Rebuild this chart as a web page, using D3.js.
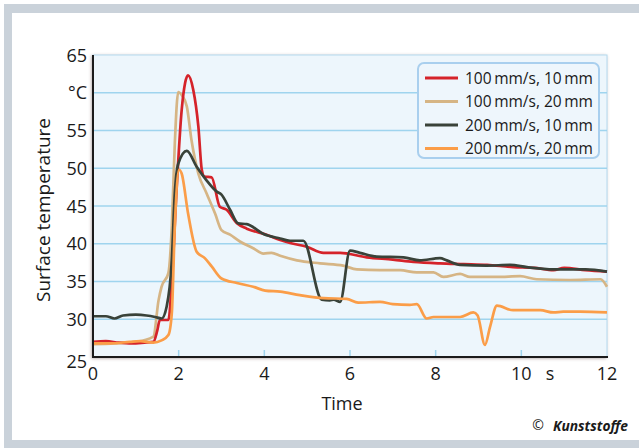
<!DOCTYPE html>
<html>
<head>
<meta charset="utf-8">
<script src="https://cdn.jsdelivr.net/npm/d3@7"></script>
<style>
  html, body { margin: 0; padding: 0; background: #fff; }
  svg { display: block; font-family: "Open Sans", "Noto Sans", sans-serif; }
</style>
</head>
<body>
<div id="chart"></div>
<script>
// Data: [time in s, surface temperature in °C]
const red100_10 = [[0,27.0],[0.3,27.1],[0.6,26.9],[0.9,26.8],[1.2,26.9],[1.41,27.0],[1.5,28.5],[1.56,29.9],[1.76,29.9],[1.84,35],[1.95,47],[2.07,57.7],[2.15,61.3],[2.22,62.3],[2.34,60.4],[2.46,55.5],[2.54,49.8],[2.6,48.9],[2.77,48.8],[2.96,44.9],[3.12,44.5],[3.36,42.7],[3.59,42.0],[4.05,41.2],[4.37,40.5],[4.6,40.1],[4.99,39.6],[5.38,38.8],[5.77,38.8],[6.39,38.2],[7.0,37.9],[7.48,37.6],[8.1,37.4],[8.65,37.3],[9.2,37.2],[9.81,36.9],[10.3,36.8],[10.75,36.5],[11.0,36.8],[11.5,36.5],[12,36.3]];
const tan100_20 = [[0,26.7],[0.5,26.8],[1.0,27.0],[1.41,27.7],[1.53,32.5],[1.6,34.3],[1.76,36.1],[1.84,42.3],[1.91,53.3],[1.99,60.1],[2.07,59.7],[2.19,58.2],[2.3,53.7],[2.46,49.3],[2.65,46.7],[2.85,44.0],[3.0,41.8],[3.2,41.2],[3.43,40.3],[3.74,39.4],[3.98,38.7],[4.17,38.8],[4.37,38.4],[4.76,37.8],[5.3,37.4],[5.84,37.1],[6.16,36.6],[6.7,36.5],[7.17,36.5],[7.56,36.2],[7.95,36.2],[8.18,35.6],[8.57,36.0],[8.8,35.6],[9.43,35.6],[9.97,35.7],[10.36,35.3],[11.14,35.2],[11.85,35.3],[12,34.3]];
const dark200_10 = [[0,30.4],[0.3,30.4],[0.5,30.1],[0.7,30.5],[1.0,30.6],[1.25,30.5],[1.45,30.3],[1.6,30.1],[1.72,31.7],[1.84,37.8],[1.91,46.7],[1.99,50.6],[2.19,52.3],[2.42,50.2],[2.65,48.4],[2.89,46.9],[3.0,46.5],[3.2,44.5],[3.39,42.7],[3.59,42.6],[3.98,41.3],[4.37,40.7],[4.6,40.4],[4.91,40.4],[5.34,32.6],[5.53,32.5],[5.62,32.6],[5.77,32.3],[6.0,39.1],[6.23,38.8],[6.62,38.3],[7.25,38.2],[7.63,37.8],[8.1,38.1],[8.26,37.8],[8.57,37.2],[9.19,37.1],[9.74,37.2],[10.13,36.9],[10.75,36.6],[11.5,36.6],[12,36.3]];
const orange200_20 = [[0,26.8],[0.4,26.8],[0.86,27.0],[1.1,27.1],[1.41,26.9],[1.6,27.2],[1.76,27.9],[1.84,30.8],[1.91,42.3],[2.01,49.8],[2.07,49.3],[2.22,44.0],[2.42,38.95],[2.61,38.1],[2.77,37.0],[3.0,35.4],[3.36,34.8],[3.74,34.3],[4.02,33.8],[4.37,33.65],[4.83,33.2],[5.38,32.8],[5.92,32.7],[6.19,32.2],[6.7,32.3],[7.0,32.0],[7.4,31.9],[7.56,32.0],[7.79,30.1],[7.95,30.3],[8.57,30.3],[8.88,30.9],[8.98,30.5],[9.15,26.6],[9.27,29.0],[9.43,31.8],[9.81,31.2],[10.44,31.2],[10.75,30.9],[10.98,31.0],[11.37,31.0],[12,30.9]];

const seriesNames = ["100\u2009mm/s, 10\u2009mm", "100\u2009mm/s, 20\u2009mm", "200\u2009mm/s, 10\u2009mm", "200\u2009mm/s, 20\u2009mm"];
const seriesColors = ["#d5232a", "#d6b585", "#394239", "#fb9d48"];
const xTicks = [0, 2, 4, 6, 8, 10, 12];
const yTicks = [25, 30, 35, 40, 45, 50, 55, 60, 65];
const unitX = "s", unitY = "°C";

const W = 639, H = 448;
const svg = d3.select("#chart").append("svg").attr("width", W).attr("height", H);

// grey frame round the white panel
svg.append("rect").attr("x", 4).attr("y", 4).attr("width", W - 4).attr("height", H - 4).attr("fill", "#cad2da");
svg.append("rect").attr("x", 12).attr("y", 13).attr("width", W - 12).attr("height", 427).attr("fill", "#fff");

const plot = { left: 93, right: 607, top: 55, bottom: 357 };
const x = d3.scaleLinear().domain([0, 12]).range([plot.left, plot.right]);
const y = d3.scaleLinear().domain([25, 65]).range([plot.bottom, plot.top]);

const defs = svg.append("defs");
const f = defs.append("filter").attr("id", "shadow").attr("x", "-5%").attr("y", "-5%").attr("width", "110%").attr("height", "110%");
f.append("feDropShadow").attr("dx", -1).attr("dy", 1).attr("stdDeviation", 1.5).attr("flood-color", "#6b5555").attr("flood-opacity", 0.55);

// plot background
svg.append("rect")
  .attr("x", plot.left).attr("y", plot.top)
  .attr("width", plot.right - plot.left).attr("height", plot.bottom - plot.top)
  .attr("fill", "#edf6fc").attr("stroke", "#b5d9ee").attr("stroke-width", 1)
  .attr("filter", "url(#shadow)");

// horizontal grid
svg.append("g").selectAll("line")
  .data(yTicks.filter(d => d > 25 && d < 65))
  .enter().append("line")
  .attr("x1", plot.left).attr("x2", plot.right)
  .attr("y1", d => y(d)).attr("y2", d => y(d))
  .attr("stroke", "#9fd4ee").attr("stroke-width", 1.5);

// small ticks on the bottom edge
svg.append("g").selectAll("line")
  .data(xTicks.filter(d => d > 0 && d < 12))
  .enter().append("line")
  .attr("x1", d => x(d)).attr("x2", d => x(d))
  .attr("y1", plot.bottom).attr("y2", plot.bottom - 7)
  .attr("stroke", "#9fd4ee").attr("stroke-width", 1.5);

// series lines
const line = d3.line().x(d => x(d[0])).y(d => y(d[1])).curve(d3.curveMonotoneX);
const allSeries = [red100_10, tan100_20, dark200_10, orange200_20];
const drawOrder = [1, 0, 2, 3];
svg.append("g").selectAll("path")
  .data(drawOrder)
  .enter().append("path")
  .attr("d", i => line(allSeries[i]))
  .attr("fill", "none")
  .attr("stroke", i => seriesColors[i])
  .attr("stroke-width", 2.7)
  .attr("stroke-linejoin", "round");

// left and bottom axis lines
svg.append("line").attr("x1", plot.left).attr("x2", plot.left).attr("y1", plot.top).attr("y2", plot.bottom + 1)
  .attr("stroke", "#1b1b1b").attr("stroke-width", 2);
svg.append("line").attr("x1", plot.left).attr("x2", plot.right + 1).attr("y1", plot.bottom).attr("y2", plot.bottom)
  .attr("stroke", "#1b1b1b").attr("stroke-width", 2);

// y tick labels, 60 replaced by the unit
svg.append("g").selectAll("text")
  .data(yTicks)
  .enter().append("text")
  .attr("x", 87)
  .attr("y", d => y(d) + 6.5 + (d === 25 ? 4 : 0))
  .attr("text-anchor", "end")
  .attr("font-size", 18).attr("fill", "#1a1a1a")
  .text(d => d === 60 ? unitY : d);

// x tick labels, "s" between 10 and 12
svg.append("g").selectAll("text")
  .data(xTicks)
  .enter().append("text")
  .attr("x", d => x(d))
  .attr("y", 380)
  .attr("text-anchor", "middle")
  .attr("font-size", 18).attr("fill", "#1a1a1a")
  .text(d => d);
svg.append("text").attr("x", x(10.67)).attr("y", 380).attr("text-anchor", "middle")
  .attr("font-size", 18).attr("fill", "#1a1a1a").text(unitX);

// axis titles
svg.append("text").attr("x", 342).attr("y", 410).attr("text-anchor", "middle")
  .attr("font-size", 18).attr("fill", "#1a1a1a").text("Time");
svg.append("text").attr("transform", "translate(50,210) rotate(-90)").attr("text-anchor", "middle")
  .attr("font-size", 19).attr("fill", "#1a1a1a").text("Surface temperature");

// legend
const lg = svg.append("g").attr("transform", "translate(418,63)");
lg.append("rect").attr("width", 181).attr("height", 95).attr("rx", 6)
  .attr("fill", "#eef6fc").attr("stroke", "#a9cfee").attr("stroke-width", 2);
const items = lg.selectAll("g.item").data(seriesNames).enter().append("g")
  .attr("transform", (d, i) => `translate(0,${15 + i * 23.5})`);
items.append("line").attr("x1", 7).attr("x2", 40).attr("y1", 0).attr("y2", 0)
  .attr("stroke", (d, i) => seriesColors[i]).attr("stroke-width", 2.8);
items.append("text").attr("x", 47).attr("y", 5.5)
  .attr("font-size", 15.5).attr("fill", "#1a1a1a").text(d => d);

// copyright
svg.append("text").attr("x", 538).attr("y", 430).attr("text-anchor", "middle")
  .attr("font-size", 14).attr("fill", "#1a1a1a").text("\u00a9");
svg.append("text").attr("x", 553).attr("y", 431)
  .attr("textLength", 75).attr("lengthAdjust", "spacingAndGlyphs")
  .attr("font-size", 15).attr("font-weight", "bold").attr("font-style", "italic")
  .attr("fill", "#1a1a1a").text("Kunststoffe");
</script>
</body>
</html>
